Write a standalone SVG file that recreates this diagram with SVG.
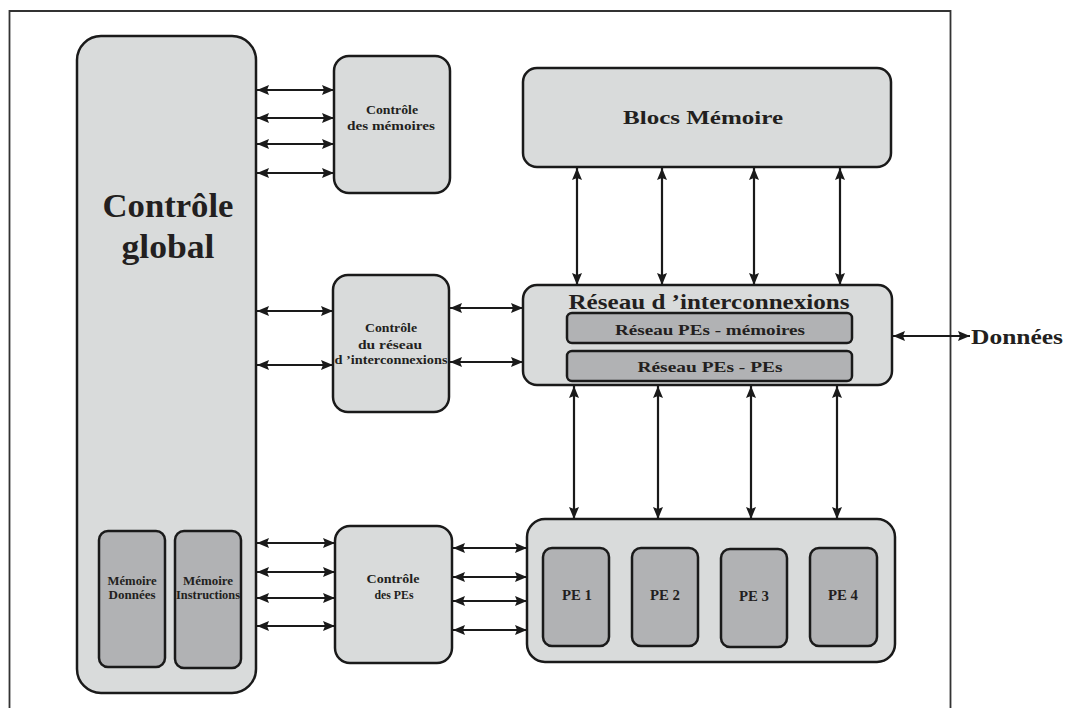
<svg xmlns="http://www.w3.org/2000/svg" width="1067" height="708" viewBox="0 0 1067 708">
<defs>
<marker id="ah" viewBox="0 0 12 10" refX="12" refY="5" markerWidth="12" markerHeight="10" markerUnits="userSpaceOnUse" orient="auto-start-reverse">
<path d="M0,0 L12,5 L0,10 L2,5 z" fill="#1a1a1a"/>
</marker>
<style>
.lt{fill:#d9dbdb;stroke:#1a1a1a;stroke-width:2.5}
.dk{fill:#b1b2b4;stroke:#1a1a1a;stroke-width:2.5}
.t{font-family:"Liberation Serif","DejaVu Serif","Times New Roman",serif;font-weight:bold;fill:#231f20;text-anchor:middle}
.c line{stroke:#1a1a1a;stroke-width:2.2;marker-start:url(#ah);marker-end:url(#ah)}
</style>
</defs>
<rect width="1067" height="708" fill="#ffffff"/>
<path d="M9.5,708 V11 H950.5 V708" fill="none" stroke="#333" stroke-width="1.8"/>

<g id="controle-global">
<rect class="lt" x="77" y="36" width="179" height="657" rx="24"/>
<text class="t" x="168" y="217" font-size="33" textLength="131" lengthAdjust="spacingAndGlyphs">Contrôle</text>
<text class="t" x="168" y="258" font-size="33" textLength="93" lengthAdjust="spacingAndGlyphs">global</text>
</g>
<g id="memoire-donnees">
<rect class="dk" x="99" y="531" width="66" height="136" rx="9"/>
<text class="t" x="132" y="585" font-size="11.5" textLength="49" lengthAdjust="spacingAndGlyphs">Mémoire</text>
<text class="t" x="132" y="599" font-size="11.5" textLength="47" lengthAdjust="spacingAndGlyphs">Données</text>
</g>
<g id="memoire-instructions">
<rect class="dk" x="175" y="531" width="66" height="137" rx="9"/>
<text class="t" x="208" y="585" font-size="11.5" textLength="50" lengthAdjust="spacingAndGlyphs">Mémoire</text>
<text class="t" x="208" y="599" font-size="11.5" textLength="64" lengthAdjust="spacingAndGlyphs">Instructions</text>
</g>
<g id="controle-memoires">
<rect class="lt" x="334" y="56" width="116" height="137" rx="15"/>
<text class="t" x="392" y="114" font-size="13" textLength="52" lengthAdjust="spacingAndGlyphs">Contrôle</text>
<text class="t" x="391" y="130" font-size="13" textLength="88" lengthAdjust="spacingAndGlyphs">des mémoires</text>
</g>
<g id="controle-reseau">
<rect class="lt" x="333" y="275" width="116" height="137" rx="15"/>
<text class="t" x="391" y="332" font-size="13" textLength="52" lengthAdjust="spacingAndGlyphs">Contrôle</text>
<text class="t" x="390" y="349" font-size="13" textLength="64" lengthAdjust="spacingAndGlyphs">du réseau</text>
<text class="t" x="391" y="364" font-size="13" textLength="113" lengthAdjust="spacingAndGlyphs">d ’interconnexions</text>
</g>
<g id="controle-pes">
<rect class="lt" x="335" y="526" width="117" height="137" rx="15"/>
<text class="t" x="393" y="583" font-size="13" textLength="53" lengthAdjust="spacingAndGlyphs">Contrôle</text>
<text class="t" x="394" y="599" font-size="13" textLength="39" lengthAdjust="spacingAndGlyphs">des PEs</text>
</g>
<g id="blocs-memoire">
<rect class="lt" x="523" y="68" width="368" height="99" rx="14"/>
<text class="t" x="703" y="124" font-size="19" textLength="160" lengthAdjust="spacingAndGlyphs">Blocs Mémoire</text>
</g>
<g id="reseau-interconnexions">
<rect class="lt" x="523" y="285" width="369" height="100" rx="14"/>
<text class="t" x="709" y="309" font-size="21" textLength="281" lengthAdjust="spacingAndGlyphs">Réseau d ’interconnexions</text>
</g>
<g id="reseau-pes-memoires">
<rect class="dk" x="567" y="313" width="285" height="30" rx="5"/>
<text class="t" x="710" y="335" font-size="15" textLength="190" lengthAdjust="spacingAndGlyphs">Réseau PEs - mémoires</text>
</g>
<g id="reseau-pes-pes">
<rect class="dk" x="567" y="351" width="285" height="30" rx="5"/>
<text class="t" x="710" y="372" font-size="15" textLength="145" lengthAdjust="spacingAndGlyphs">Réseau PEs - PEs</text>
</g>
<g id="pe-container">
<rect class="lt" x="527" y="519" width="368" height="143" rx="18"/>
</g>
<g id="pe1">
<rect class="dk" x="543" y="548" width="66" height="98" rx="9"/>
<text class="t" x="577" y="600" font-size="14" textLength="30" lengthAdjust="spacingAndGlyphs">PE 1</text>
</g>
<g id="pe2">
<rect class="dk" x="632" y="548" width="66" height="98" rx="9"/>
<text class="t" x="665" y="600" font-size="14" textLength="30" lengthAdjust="spacingAndGlyphs">PE 2</text>
</g>
<g id="pe3">
<rect class="dk" x="721" y="549" width="66" height="98" rx="9"/>
<text class="t" x="754" y="601" font-size="14" textLength="30" lengthAdjust="spacingAndGlyphs">PE 3</text>
</g>
<g id="pe4">
<rect class="dk" x="810" y="548" width="67" height="98" rx="9"/>
<text class="t" x="843" y="600" font-size="14" textLength="30" lengthAdjust="spacingAndGlyphs">PE 4</text>
</g>
<g id="donnees">
<text class="t" x="971" y="344" font-size="20" textLength="92" lengthAdjust="spacingAndGlyphs" style="text-anchor:start">Données</text>
</g>

<g id="connectors" class="c">
<line x1="257" y1="90" x2="334" y2="90"/>
<line x1="257" y1="118" x2="334" y2="118"/>
<line x1="257" y1="144" x2="334" y2="144"/>
<line x1="257" y1="173" x2="334" y2="173"/>
<line x1="257" y1="311" x2="333" y2="311"/>
<line x1="257" y1="365" x2="333" y2="365"/>
<line x1="450" y1="308" x2="523" y2="308"/>
<line x1="450" y1="362" x2="523" y2="362"/>
<line x1="257" y1="543" x2="335" y2="543"/>
<line x1="257" y1="572" x2="335" y2="572"/>
<line x1="257" y1="598" x2="335" y2="598"/>
<line x1="257" y1="626" x2="335" y2="626"/>
<line x1="453" y1="548" x2="527" y2="548"/>
<line x1="453" y1="577" x2="527" y2="577"/>
<line x1="453" y1="601" x2="527" y2="601"/>
<line x1="453" y1="630" x2="527" y2="630"/>
<line x1="577" y1="168" x2="577" y2="285"/>
<line x1="662" y1="168" x2="662" y2="285"/>
<line x1="754" y1="168" x2="754" y2="285"/>
<line x1="840" y1="168" x2="840" y2="285"/>
<line x1="574" y1="386" x2="574" y2="519"/>
<line x1="658" y1="386" x2="658" y2="519"/>
<line x1="751" y1="386" x2="751" y2="519"/>
<line x1="837" y1="386" x2="837" y2="519"/>
<line x1="893" y1="336" x2="970" y2="336"/>
</g>
</svg>
